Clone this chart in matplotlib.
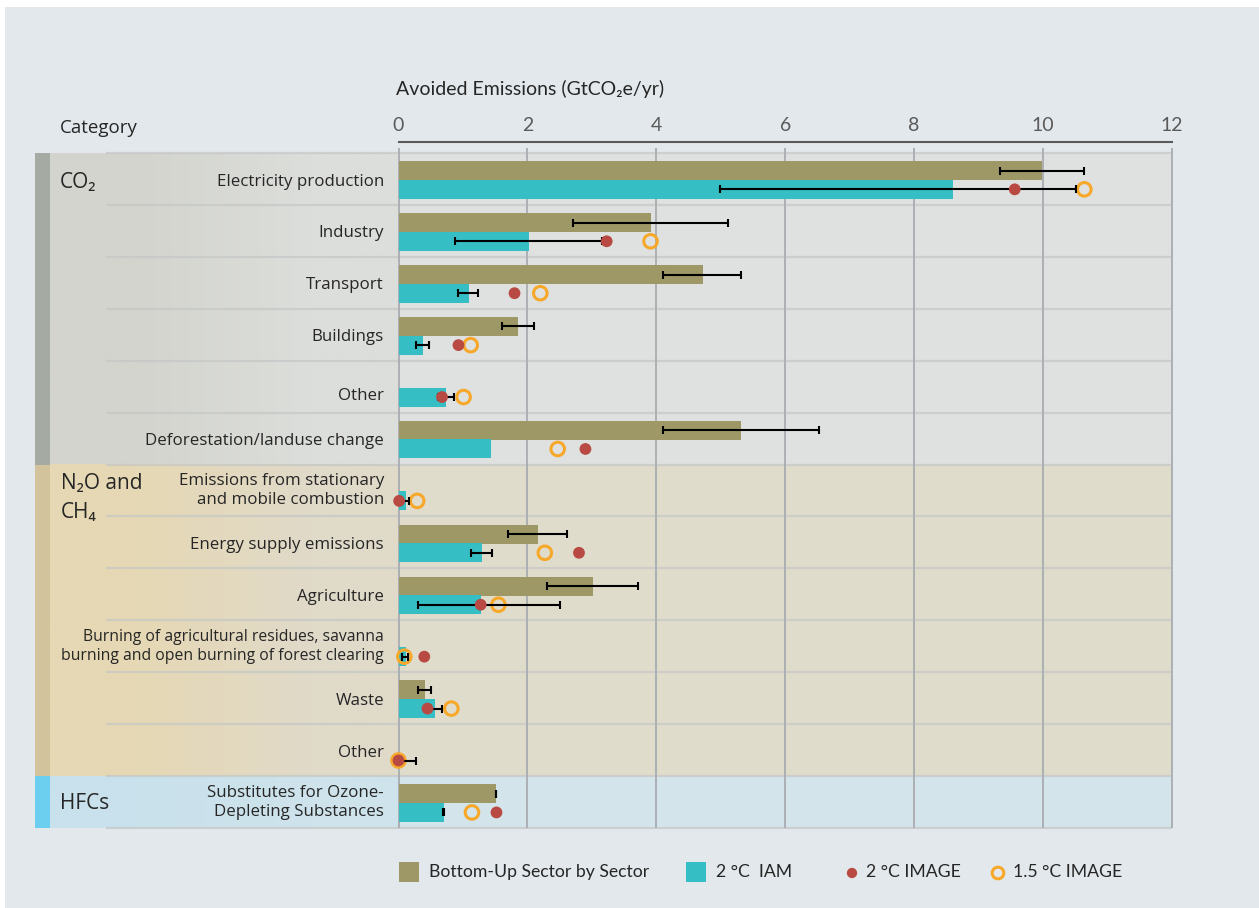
import numpy as np
import matplotlib
matplotlib.use('Agg')
import matplotlib.pyplot as plt
from matplotlib.patches import Rectangle
from matplotlib.colors import to_rgb

nan = np.nan

# ---------------- data ----------------
groups = ['CO₂', 'N₂O and\nCH₄', 'HFCs']
group_sizes = [6, 6, 1]
categories = [
    'Electricity production', 'Industry', 'Transport', 'Buildings', 'Other',
    'Deforestation/landuse change',
    'Emissions from stationary\nand mobile combustion', 'Energy supply emissions',
    'Agriculture',
    'Burning of agricultural residues, savanna\nburning and open burning of forest clearing',
    'Waste', 'Other',
    'Substitutes for Ozone-\nDepleting Substances',
]
bottom_up    = [9.98, 3.91, 4.72, 1.85, nan, 5.31, nan, 2.16, 3.01, nan, 0.41, nan, 1.51]
bottom_up_lo = [9.33, 2.70, 4.11, 1.60, nan, 4.11, nan, 1.70, 2.30, nan, 0.30, nan, 1.51]
bottom_up_hi = [10.63, 5.11, 5.31, 2.10, nan, 6.52, nan, 2.61, 3.71, nan, 0.50, nan, 1.51]
iam_2c       = [8.60, 2.02, 1.09, 0.375, 0.73, 1.43, 0.11, 1.29, 1.275, 0.11, 0.56, 0.0, 0.70]
iam_2c_lo    = [4.98, 0.87, 0.93, 0.27, 0.62, nan, 0.05, 1.125, 0.30, 0.06, 0.42, 0.0, 0.69]
iam_2c_hi    = [10.51, 3.16, 1.24, 0.47, 0.86, nan, 0.16, 1.45, 2.51, 0.15, 0.675, 0.27, 0.71]
image_2c     = [9.56, 3.23, 1.80, 0.93, 0.675, 2.90, 0.01, 2.80, 1.275, 0.40, 0.45, 0.0, 1.52]
image_15c    = [10.64, 3.91, 2.20, 1.12, 1.01, 2.47, 0.29, 2.27, 1.55, 0.09, 0.82, 0.0, 1.14]
xticks = [0, 2, 4, 6, 8, 10, 12]
legend_labels = ['Bottom-Up Sector by Sector', '2 °C  IAM', '2 °C IMAGE', '1.5 °C IMAGE']

# ---------------- style ----------------
C_BU = '#9e9766'
C_IAM = '#35bec3'
C_RED = '#b84a43'
C_ORG = '#f7a82a'
PANEL = '#e2e8ec'
strip_cols = ['#a5aaa3', '#d3c39c', '#6dcff0']
label_cols = [('#d3d4cd', '#dcdedb'), ('#e6d8b4', '#e0dac9'), ('#c9e1ec', '#cee3eb')]
plot_cols = ['#dee1df', '#e0dccc', '#d3e4ea']
TXT = '#262626'
SANS = ['Open Sans', 'DejaVu Sans']
NARROW = ['Lato', 'DejaVu Sans']

W, H = 1259, 908
fig = plt.figure(figsize=(W / 100, H / 100), dpi=100)
fig.patch.set_facecolor('white')

def fx(px):
    return px / W

def fy(py):
    return 1 - py / H

# pixel-space background / legend axes
bg = fig.add_axes([0, 0, 1, 1], zorder=0)
bg.set_xlim(0, W)
bg.set_ylim(H, 0)
bg.axis('off')
bg.add_patch(Rectangle((5, 7), W - 5, H - 7, facecolor=PANEL, edgecolor='none'))

# main axes
X0PX, X12PX = 398.5, 1172.0
LPX, TPX, BPX = 35.0, 153.0, 828.0
ppu = (X12PX - X0PX) / 12.0
xmin = (LPX - X0PX) / ppu
nrows = len(categories)
rowpx = (BPX - TPX) / nrows
ax = fig.add_axes([fx(LPX), fy(BPX), fx(X12PX) - fx(LPX), fy(TPX) - fy(BPX)], zorder=1)
ax.set_facecolor('none')
for s in ax.spines.values():
    s.set_visible(False)
ax.set_xticks([])
ax.set_yticks([])

strip_w = 15 / ppu
label_start = xmin + strip_w
r0 = 0
for gi, (g, n) in enumerate(zip(groups, group_sizes)):
    r1 = r0 + n
    ax.add_patch(Rectangle((xmin, r0), strip_w, n, facecolor=strip_cols[gi], edgecolor='none', zorder=0))
    c1, c2 = label_cols[gi]
    grad = np.array([[to_rgb(c1), to_rgb(c2)]])
    ax.imshow(grad, extent=[label_start, 0, r1, r0], aspect='auto', interpolation='bilinear', zorder=0)
    ax.add_patch(Rectangle((0, r0), 12, n, facecolor=plot_cols[gi], edgecolor='none', zorder=0))
    # group label
    if n == 1:
        ax.text(xmin + 25 / ppu, r0 + 0.52, g, ha='left', va='center', fontsize=15,
                color=TXT, family=SANS, zorder=3)
    elif '\n' in g:
        ax.text(xmin + 26 / ppu, r0 + 8 / rowpx, g, ha='left', va='top', fontsize=15,
                color=TXT, family=SANS, linespacing=1.5, zorder=3)
    else:
        ax.text(xmin + 25 / ppu, r0 + 0.56, g, ha='left', va='center', fontsize=15,
                color=TXT, family=SANS, zorder=3)
    r0 = r1

# row separators
for r in range(nrows + 1):
    ax.plot([(106 - X0PX) / ppu, 12], [r, r], color='#c4c7c6', lw=1.6, alpha=0.7,
            zorder=1, clip_on=False, solid_capstyle='butt')

# vertical grid
for t in xticks:
    ax.plot([t, t], [-5 / rowpx, nrows], color='#acafb3', lw=1.4, zorder=1,
            clip_on=False, solid_capstyle='butt')

rows = np.arange(nrows)
bh = 0.366
y_bu = rows + 0.34
y_iam = rows + 0.70
ax.barh(y_bu, bottom_up, height=bh, color=C_BU, zorder=2)
ax.barh(y_iam, iam_2c, height=bh, color=C_IAM, zorder=2)

def errs(lo, hi, y):
    lo = np.array(lo, float)
    hi = np.array(hi, float)
    m = ~np.isnan(lo)
    ax.errorbar((lo[m] + hi[m]) / 2, y[m], xerr=(hi[m] - lo[m]) / 2, fmt='none',
                ecolor='black', elinewidth=1.5, capsize=3.2, capthick=1.5, zorder=4)

errs(bottom_up_lo, bottom_up_hi, y_bu)
errs(iam_2c_lo, iam_2c_hi, y_iam)
ax.scatter(image_15c, y_iam, s=95, facecolor='none', edgecolor=C_ORG, linewidth=2.2,
           zorder=3, clip_on=False)
ax.scatter(image_2c, y_iam, s=72, color=C_RED, edgecolor='none', zorder=5, clip_on=False)

# row labels
for i, lab in enumerate(categories):
    yy = i + 0.55
    if lab == 'Other' and i < 6:
        yy = i + 0.68
    if '\n' in lab:
        yy = i + 0.5
    longest = max(len(p) for p in lab.split('\n'))
    fs = 11.3 if longest > 35 else 12.2
    ax.text(-14.5 / ppu, yy, lab, ha='right', va='center', multialignment='right',
            fontsize=fs, color=TXT, family=SANS, linespacing=1.25, zorder=3)

ax.set_xlim(xmin, 12)
ax.set_ylim(nrows, 0)

# top axis
axt = fig.add_axes([fx(X0PX), fy(142) - 0.0005, fx(X12PX) - fx(X0PX), 0.0005], zorder=2)
axt.set_facecolor('none')
axt.set_xlim(0, 12)
axt.set_yticks([])
for k in ['left', 'right', 'bottom']:
    axt.spines[k].set_visible(False)
axt.spines['top'].set_color('#5a5a5a')
axt.spines['top'].set_linewidth(1.5)
axt.set_xticks(xticks)
axt.set_xticklabels([str(t) for t in xticks], family=NARROW, fontsize=14, color='#5a5a5a')
axt.set_xticks([0, 12], minor=True)
axt.tick_params(axis='x', which='major', top=True, bottom=False, labeltop=True,
                labelbottom=False, length=0, pad=6)
axt.tick_params(axis='x', which='minor', top=True, bottom=False, direction='out',
                length=5.5, width=1.5, color='#5a5a5a')

# header texts
bg.text(60, 128, 'Category', ha='left', va='center', fontsize=13.5, color=TXT, family=SANS)
bg.text(396, 89, 'Avoided Emissions (GtCO₂e/yr)', ha='left', va='center',
        fontsize=14, color=TXT, family=NARROW)

# legend
ly = 872
LFS = 12.7
bg.add_patch(Rectangle((399, ly - 10), 20, 20, facecolor=C_BU, edgecolor='none'))
bg.text(429, ly, legend_labels[0], ha='left', va='center', fontsize=LFS, color=TXT, family=NARROW)
bg.add_patch(Rectangle((686, ly - 10), 20, 20, facecolor=C_IAM, edgecolor='none'))
bg.text(716, ly, legend_labels[1], ha='left', va='center', fontsize=LFS, color=TXT, family=NARROW)
bg.scatter([852], [ly + 1], s=55, color=C_RED, edgecolor='none')
bg.text(866, ly, legend_labels[2], ha='left', va='center', fontsize=LFS, color=TXT, family=NARROW)
bg.scatter([998], [ly + 1], s=70, facecolor='none', edgecolor=C_ORG, linewidth=2.2)
bg.text(1013, ly, legend_labels[3], ha='left', va='center', fontsize=LFS, color=TXT, family=NARROW)

fig.savefig('out.png', dpi=100, facecolor=fig.get_facecolor())
